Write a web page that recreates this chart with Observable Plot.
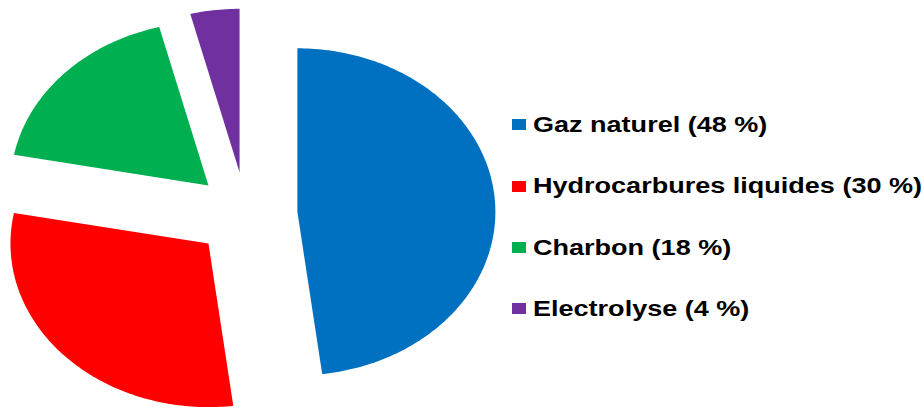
<!DOCTYPE html>
<html>
<head>
<meta charset="utf-8">
<script src="https://cdn.jsdelivr.net/npm/d3@7"></script>
<script src="https://cdn.jsdelivr.net/npm/@observablehq/plot@0.6"></script>
<style>
  html, body { margin: 0; padding: 0; background: #fff; }
  #wrap { position: relative; width: 924px; height: 410px; overflow: hidden; }
  #legend { position: absolute; left: 512px; top: 94.3px; font-family: "Liberation Sans", Arial, sans-serif; font-weight: bold; color: #000; }
  .row { height: 61.3px; display: flex; align-items: center; white-space: nowrap; }
  .sw { width: 14px; height: 11px; flex: none; margin-right: 7px; }
  .lb { font-size: 21.8px; line-height: 1; display: inline-block; transform: scaleX(1.24); transform-origin: 0 50%; }
</style>
</head>
<body>
<div id="wrap"><div id="chart"></div><div id="legend"></div></div>
<script>
const categories = ["Gaz naturel", "Hydrocarbures liquides", "Charbon", "Electrolyse"];
const shares = [48, 30, 18, 4];
const colors = ["#0070C0", "#FF0000", "#00B050", "#7030A0"];
const legendLabels = ["Gaz naturel (48 %)", "Hydrocarbures liquides (30 %)", "Charbon (18 %)", "Electrolyse (4 %)"];

// Build exploded pie slice outlines in unit-circle coordinates
const total = d3.sum(shares);
const explode = 0.26;
const points = [];
let cum = 0;
shares.forEach((v, i) => {
  const a0 = cum / total * 2 * Math.PI;
  const a1 = (cum + v) / total * 2 * Math.PI;
  cum += v;
  const mid = (a0 + a1) / 2;
  const ox = explode * Math.sin(mid), oy = explode * Math.cos(mid);
  points.push({name: categories[i], x: ox, y: oy});
  const n = Math.max(4, Math.ceil((a1 - a0) / (Math.PI / 180)));
  for (let k = 0; k <= n; k++) {
    const a = a0 + (a1 - a0) * k / n;
    points.push({name: categories[i], x: ox + Math.sin(a), y: oy + Math.cos(a)});
  }
});

const cx = 245.5, cy = 214, rx = 198, ry = 163.5;
const chart = Plot.plot({
  width: 924, height: 410, margin: 0,
  x: {domain: [-cx / rx, (924 - cx) / rx], axis: null},
  y: {domain: [-(410 - cy) / ry, cy / ry], axis: null},
  color: {domain: categories, range: colors},
  marks: [
    Plot.line(points, {x: "x", y: "y", z: "name", fill: "name", stroke: "none"})
  ]
});
document.getElementById("chart").appendChild(chart);

const legend = document.getElementById("legend");
categories.forEach((c, i) => {
  const row = document.createElement("div");
  row.className = "row";
  const sw = document.createElement("span");
  sw.className = "sw";
  sw.style.background = colors[i];
  const lb = document.createElement("span");
  lb.className = "lb";
  lb.textContent = legendLabels[i];
  row.appendChild(sw); row.appendChild(lb);
  legend.appendChild(row);
});
</script>
</body>
</html>
